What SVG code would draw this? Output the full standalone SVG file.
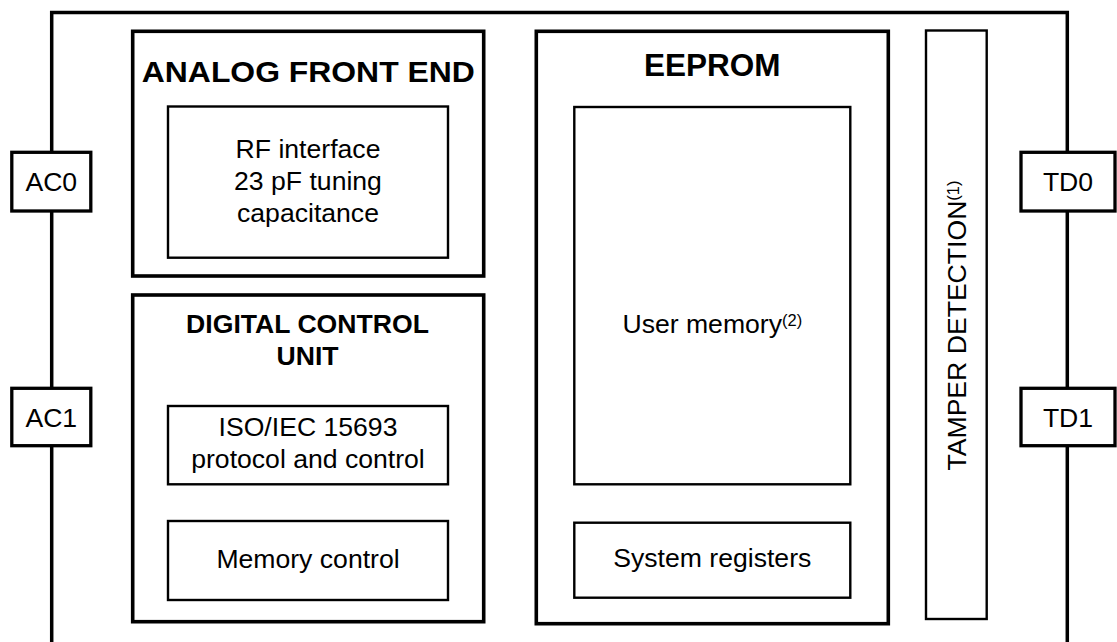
<svg xmlns="http://www.w3.org/2000/svg" width="1117" height="642" viewBox="0 0 1117 642">
<style>
text{font-family:"Liberation Sans",Arial,Helvetica,sans-serif;fill:#000;text-anchor:middle}
.t{font-size:26.6px}
.b{font-weight:bold}
.sup{font-size:16.5px}
.frame{fill:none;stroke:#000;stroke-width:3.5}
.blk{fill:#fff;stroke:#000;stroke-width:3.6}
.in{fill:#fff;stroke:#000;stroke-width:2.4}
.pin{fill:#fff;stroke:#000;stroke-width:3.3}
</style>
<rect width="1117" height="642" fill="#fff"/>
<g id="connectors">
<path class="frame" d="M51.7,642 V12.5 H1067.3 V642"/>
</g>
<g id="afe">
<rect class="blk" x="132.7" y="31.3" width="351" height="244.7"/>
<text class="b" x="308.3" y="82.3" font-size="29.5" textLength="333" lengthAdjust="spacingAndGlyphs">ANALOG FRONT END</text>
</g>
<g id="rf">
<rect class="in" x="168" y="106.5" width="280" height="151.2"/>
<text class="t" x="308" y="158">RF interface</text>
<text class="t" x="308" y="190">23 pF tuning</text>
<text class="t" x="308" y="222">capacitance</text>
</g>
<g id="dcu">
<rect class="blk" x="132.7" y="295" width="351" height="326.7"/>
<text class="t b" x="307.5" y="332.7">DIGITAL CONTROL</text>
<text class="t b" x="307.5" y="365">UNIT</text>
</g>
<g id="iso">
<rect class="in" x="168" y="406" width="280" height="78.3"/>
<text class="t" x="308" y="436">ISO/IEC 15693</text>
<text class="t" x="308" y="468.3">protocol and control</text>
</g>
<g id="memctrl">
<rect class="in" x="168" y="521" width="280" height="79"/>
<text class="t" x="308" y="567.5">Memory control</text>
</g>
<g id="eeprom">
<rect class="blk" x="536.3" y="31.3" width="352" height="592.4"/>
<text class="b" x="712.3" y="76" font-size="31.5">EEPROM</text>
</g>
<g id="usermem">
<rect class="in" x="574.3" y="107" width="276" height="377.3"/>
<text class="t" x="712.3" y="333">User memory<tspan class="sup" dy="-7">(2)</tspan></text>
</g>
<g id="sysreg">
<rect class="in" x="574.3" y="522.7" width="276" height="75"/>
<text class="t" x="712.3" y="566.7">System registers</text>
</g>
<g id="tamper">
<rect class="in" x="926" y="30.5" width="60.7" height="588.5"/>
<text class="t" transform="translate(965.8,325.5) rotate(-90)" x="0" y="0">TAMPER DETECTION<tspan class="sup" dy="-7">(1)</tspan></text>
</g>
<g id="ac0">
<rect class="pin" x="11.8" y="152.3" width="79" height="58.7"/>
<text class="t" x="51.3" y="191">AC0</text>
</g>
<g id="ac1">
<rect class="pin" x="11.8" y="388.3" width="79" height="57.4"/>
<text class="t" x="51.3" y="426.5">AC1</text>
</g>
<g id="td0">
<rect class="pin" x="1021" y="152.3" width="94" height="58.7"/>
<text class="t" x="1068" y="191">TD0</text>
</g>
<g id="td1">
<rect class="pin" x="1021" y="388.3" width="94" height="57.4"/>
<text class="t" x="1068" y="426.5">TD1</text>
</g>
</svg>
